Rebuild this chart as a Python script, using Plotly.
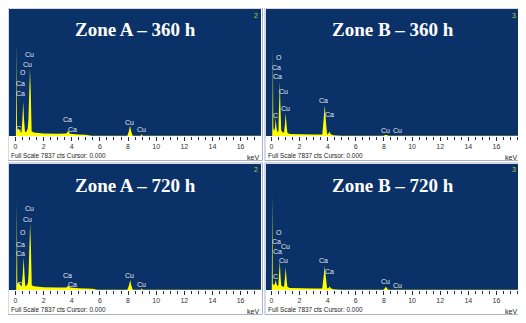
import plotly.graph_objects as go

# EDS spectra, energy in keV and counts (full scale 7837 cts)
full_scale = 7837

kev_a360 = [-0.5, 0.03, 0.06, 0.08, 0.11, 0.16, 0.24, 0.32, 0.42, 0.49, 0.55, 0.61, 0.68, 0.8, 0.87,
            0.92, 0.98, 1.03, 1.08, 1.15, 1.3, 2.0, 3.0, 3.62, 3.75, 3.88, 4.5, 5.0, 5.4, 7.95, 8.06,
            8.14, 8.22, 8.33, 8.9, 8.97, 9.04, 17.6]
cts_a360 = [0, 0, 2900, 5720, 300, 470, 430, 300, 180, 1000, 2116, 1000, 230, 300, 470,
            1000, 2900, 4154, 2900, 300, 220, 160, 140, 150, 310, 140, 100, 80, 15, 15, 300,
            627, 300, 20, 20, 110, 20, 10]

kev_b360 = [-0.5, 0.06, 0.09, 0.11, 0.14, 0.2, 0.26, 0.31, 0.36, 0.42, 0.5, 0.55, 0.6, 0.65, 0.7,
            0.78, 0.9, 0.96, 1.02, 1.08, 1.14, 1.3, 2.0, 3.0, 3.62, 3.72, 3.8, 3.88, 3.96, 4.06,
            4.13, 4.2, 4.4, 5.0, 7.95, 8.14, 8.33, 17.6]
cts_b360 = [0, 0, 2600, 5330, 500, 300, 550, 1097, 550, 250, 300, 1700, 3370, 1700, 350,
            250, 200, 700, 1410, 700, 200, 120, 90, 90, 100, 900, 1880, 900, 100, 150,
            275, 120, 40, 15, 15, 80, 15, 10]

kev_a720 = [-0.5, 0.05, 0.08, 0.1, 0.13, 0.18, 0.25, 0.33, 0.44, 0.52, 0.58, 0.64, 0.7, 0.82, 0.89,
            0.93, 0.99, 1.04, 1.09, 1.16, 1.3, 2.0, 3.0, 3.62, 3.75, 3.88, 4.5, 5.5, 5.8, 7.95, 8.07,
            8.15, 8.23, 8.34, 8.9, 8.97, 9.04, 17.6]
cts_a720 = [0, 0, 2700, 5486, 300, 470, 450, 300, 180, 1000, 2038, 1000, 230, 300, 470,
            1000, 2900, 4154, 2900, 300, 230, 170, 150, 150, 260, 150, 110, 80, 15, 15, 300,
            627, 300, 20, 20, 90, 20, 10]

kev_b720 = [-0.5, 0.03, 0.05, 0.07, 0.1, 0.18, 0.26, 0.31, 0.36, 0.42, 0.5, 0.55, 0.6, 0.65, 0.7,
            0.78, 0.9, 0.96, 1.02, 1.08, 1.14, 1.3, 2.0, 3.0, 3.62, 3.72, 3.8, 3.88, 3.96, 4.07,
            4.15, 4.22, 4.4, 5.0, 7.98, 8.14, 8.3, 17.6]
cts_b720 = [0, 0, 3000, 5956, 400, 300, 400, 627, 400, 250, 300, 900, 1802, 900, 300,
            220, 200, 700, 1410, 700, 200, 120, 90, 90, 100, 750, 1489, 750, 100, 130,
            235, 110, 40, 15, 15, 200, 15, 10]

# element line labels: (text, keV, height as fraction of full scale)
labels_a360 = [("Cu", 0.98, 0.64), ("Cu", 0.84, 0.566), ("O", 0.51, 0.50), ("Ca", 0.34, 0.416),
               ("Ca", 0.37, 0.337), ("C", 0.25, 0.06), ("Ca", 3.71, 0.13), ("Ca", 4.04, 0.053),
               ("Cu", 8.09, 0.11), ("Cu", 8.97, 0.053)]
labels_b360 = [("O", 0.55, 0.62), ("Ca", 0.36, 0.54), ("Ca", 0.41, 0.466), ("Cu", 0.88, 0.347),
               ("Cu", 1.02, 0.215), ("C", 0.28, 0.16), ("Ca", 3.73, 0.276), ("Ca", 4.1, 0.17),
               ("Cu", 8.14, 0.047), ("Cu", 8.96, 0.04)]
labels_a720 = [("Cu", 0.97, 0.643), ("Cu", 0.85, 0.563), ("O", 0.53, 0.455), ("Ca", 0.38, 0.365),
               ("Ca", 0.38, 0.286), ("C", 0.26, 0.04), ("Ca", 3.72, 0.113), ("Ca", 4.05, 0.045),
               ("Cu", 8.1, 0.113), ("Cu", 8.98, 0.045)]
labels_b720 = [("O", 0.55, 0.458), ("Ca", 0.36, 0.387), ("Ca", 0.41, 0.308), ("Cu", 1.0, 0.343),
               ("Cu", 0.88, 0.237), ("C", 0.28, 0.11), ("Ca", 3.73, 0.234), ("Ca", 4.1, 0.145),
               ("Cu", 8.14, 0.066), ("Cu", 8.96, 0.039)]

titles = ["Zone A – 360 h", "Zone B – 360 h", "Zone A – 720 h", "Zone B – 720 h"]
tags = ["2", "3", "2", "3"]
tick_vals = [0, 2, 4, 6, 8, 10, 12, 14, 16]

# the page body has an 8px margin, so the figure starts at (8, 8) of the window
OFF = 8
W, H = 526 - OFF, 323 - OFF
px = lambda v: (v - OFF) / W
py = lambda v: 1 - (v - OFF) / H

panels = [
    dict(kev=kev_a360, cts=cts_a360, lab=labels_a360, x=(9, 261), y=(9, 136), rng=[-0.46, 17.45]),
    dict(kev=kev_b360, cts=cts_b360, lab=labels_b360, x=(266, 519), y=(9, 136), rng=[-0.38, 17.6]),
    dict(kev=kev_a720, cts=cts_a720, lab=labels_a720, x=(9, 261), y=(164, 290), rng=[-0.46, 17.45]),
    dict(kev=kev_b720, cts=cts_b720, lab=labels_b720, x=(266, 519), y=(164, 290), rng=[-0.38, 17.6]),
]

fig = go.Figure()
layout = {}
annotations = []
shapes = []

for i, p in enumerate(panels):
    n = "" if i == 0 else str(i + 1)
    fig.add_trace(go.Scatter(x=p["kev"], y=p["cts"], mode="lines", fill="tozeroy",
                             line=dict(color="#ffff00", width=0), fillcolor="#ffff00",
                             xaxis="x" + n, yaxis="y" + n, showlegend=False, hoverinfo="skip"))
    layout["xaxis" + n] = dict(domain=[px(p["x"][0]), px(p["x"][1])], range=p["rng"],
                               anchor="y" + n, showgrid=False, zeroline=False, showline=False,
                               tickvals=tick_vals, ticks="outside", ticklen=4, tickwidth=1,
                               tickcolor="#1a2a50",
                               minor=dict(dtick=0.5, ticks="outside", ticklen=3, tickcolor="#1a2a50"),
                               tickfont=dict(family="Liberation Sans, Arial", size=7, color="#333333"),
                               fixedrange=True)
    layout["yaxis" + n] = dict(domain=[py(p["y"][1]), py(p["y"][0])], range=[0, full_scale],
                               anchor="x" + n, showgrid=False, zeroline=False, showline=False,
                               showticklabels=False, ticks="", fixedrange=True)

    x0, x1 = p["x"]
    y0, y1 = p["y"]
    # panel title
    annotations.append(dict(x=px((x0 + x1) / 2), y=py(y0 + 21), xref="paper", yref="paper",
                            xanchor="center", yanchor="middle",
                            text="<b>" + titles[i] + "</b>", showarrow=False,
                            font=dict(family="Liberation Serif, DejaVu Serif", size=19, color="white")))
    # channel number
    annotations.append(dict(x=px(x1 - 1), y=py(y0 + 6), xref="paper", yref="paper",
                            xanchor="right", yanchor="middle",
                            text=tags[i], showarrow=False,
                            font=dict(family="Liberation Sans, Arial", size=7, color="#b5d334")))
    # footer
    annotations.append(dict(x=px(x0), y=py(y1 + 19), xref="paper", yref="paper",
                            xanchor="left", yanchor="middle",
                            text="Full Scale 7837 cts Cursor: 0.000", showarrow=False,
                            font=dict(family="Liberation Sans Narrow, Liberation Sans, Arial",
                                      size=6.4, color="#222222")))
    annotations.append(dict(x=px(x1), y=py(y1 + 21), xref="paper", yref="paper",
                            xanchor="right", yanchor="middle",
                            text="keV", showarrow=False,
                            font=dict(family="Liberation Sans, Arial", size=7, color="#222222")))
    # element labels
    for t, e, f in p["lab"]:
        annotations.append(dict(x=e, y=f, xref="x" + n, yref="y" + n + " domain", text=t,
                                xanchor="center", yanchor="middle", showarrow=False,
                                font=dict(family="Liberation Sans, Arial", size=7, color="#e4e8f0")))
    # panel frame
    shapes.append(dict(type="rect", xref="paper", yref="paper",
                       x0=px(x0 - 1), x1=px(x1 + 1.5), y0=py(y1 + 24.5), y1=py(y0 - 1),
                       line=dict(color="#aab4c6", width=1)))

fig.update_layout(**layout)
fig.update_layout(
    width=W, height=H,
    margin=dict(l=0, r=0, t=0, b=0),
    paper_bgcolor="white",
    plot_bgcolor="#0b3268",
    annotations=annotations,
    shapes=shapes,
)

fig.write_html("out.html")
